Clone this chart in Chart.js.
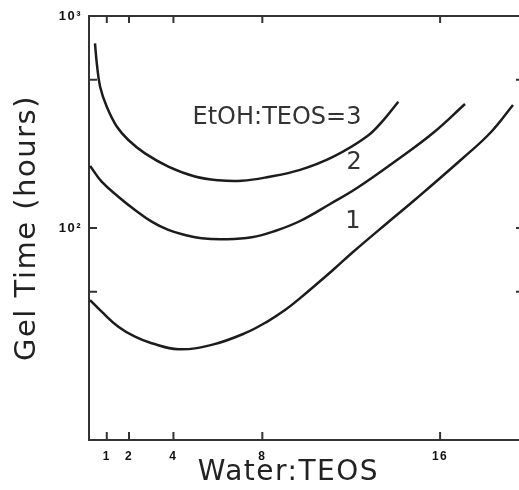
<!DOCTYPE html>
<html>
<head>
<meta charset="utf-8">
<script src="https://cdn.jsdelivr.net/npm/chart.js@4.4.0/dist/chart.umd.min.js"></script>
<style>
body { margin: 0; background: #fff; }
</style>
</head>
<body>
<canvas id="gelChart" width="519" height="490"></canvas>
<script>
/*--data--*/
var xTicks = [1, 2, 4, 8, 16];
var yTickMarks = [10, 50, 100, 500, 1000];
var yTickLabels = {100: '10\u00b2', 1000: '10\u00b3'};

// EtOH:TEOS = 3
var ratio3X = [0.47, 0.55, 0.70, 1.0, 1.45, 1.97, 2.72, 3.77, 4.97, 6.02, 7.07, 8.2, 9.7, 11.2, 12.7, 13.45, 14.12];
var ratio3Y = [743, 599, 464, 373, 301, 260, 225, 195, 175, 168, 167, 173.5, 188, 217, 270, 323, 394];
// EtOH:TEOS = 2
var ratio2X = [0.25, 0.77, 1.52, 2.27, 3.02, 3.77, 4.52, 5.27, 6.32, 7.52, 8.57, 9.70, 11.05, 12.26, 14.06, 15.68, 17.12];
var ratio2Y = [196, 165.4, 140.5, 121.6, 107.1, 97.9, 92.7, 89.4, 88.5, 90.4, 96.8, 107.9, 129.8, 154.4, 209.3, 280.6, 384.6];
// EtOH:TEOS = 1
var ratio1X = [0.25, 0.77, 1.52, 2.27, 3.02, 4.22, 5.72, 7.22, 8.26, 9.02, 9.70, 11.18, 12.08, 13.62, 14.96, 17.03, 18.25, 19.28];
var ratio1Y = [45.7, 40.3, 34.2, 30.7, 28.6, 26.8, 28.1, 31.9, 36.4, 41.0, 46.7, 63.4, 77.0, 105.6, 138.5, 213.9, 280.6, 380.4];

var curveLabels = ['EtOH:TEOS=3', '2', '1'];
var curveLabelX = [8.66, 12.13, 12.08];
var curveLabelY = [330, 203, 107];

function toPoints(xs, ys) {
  return xs.map(function (x, i) { return {x: x, y: ys[i]}; });
}

var lineColor = '#1c1c1c';
var axisColor = '#333';

/*--ticks pointing inward, top frame, and curve labels--*/
var frameTicks = {
  id: 'frameTicks',
  beforeDraw: function (chart) {
    chart.ctx.letterSpacing = '1.5px';
  },
  beforeDatasetsDraw: function (chart) {
    chart.ctx.letterSpacing = '0px';
  },
  afterDraw: function (chart) {
    var ctx = chart.ctx, a = chart.chartArea, x = chart.scales.x, y = chart.scales.y;
    ctx.save();
    ctx.strokeStyle = axisColor;
    ctx.lineWidth = 2;
    ctx.beginPath();
    ctx.moveTo(a.left - 1, a.top);
    ctx.lineTo(a.right, a.top);
    xTicks.forEach(function (v) {
      var px = x.getPixelForValue(v);
      ctx.moveTo(px, a.bottom);
      ctx.lineTo(px, a.bottom - 8);
      ctx.moveTo(px, a.top);
      ctx.lineTo(px, a.top + 7);
    });
    [50, 100, 500].forEach(function (v) {
      var py = y.getPixelForValue(v);
      ctx.moveTo(a.left, py);
      ctx.lineTo(a.left + 8, py);
      ctx.moveTo(a.right, py);
      ctx.lineTo(a.right - 3, py);
    });
    ctx.stroke();

    ctx.letterSpacing = '0px';
    ctx.fillStyle = '#333';
    ctx.font = '24px "DejaVu Sans"';
    ctx.textAlign = 'center';
    ctx.textBaseline = 'middle';
    curveLabels.forEach(function (t, i) {
      ctx.fillText(t, x.getPixelForValue(curveLabelX[i]), y.getPixelForValue(curveLabelY[i]));
    });
    ctx.restore();
  }
};

var ctx = document.getElementById('gelChart').getContext('2d');
var gelChart = new Chart(ctx, {
  type: 'line',
  plugins: [frameTicks],
  data: {
    datasets: [
      {label: 'EtOH:TEOS=3', data: toPoints(ratio3X, ratio3Y)},
      {label: 'EtOH:TEOS=2', data: toPoints(ratio2X, ratio2Y)},
      {label: 'EtOH:TEOS=1', data: toPoints(ratio1X, ratio1Y)}
    ].map(function (d) {
      d.borderColor = lineColor;
      d.borderWidth = 2.5;
      d.pointRadius = 0;
      d.fill = false;
      d.tension = 0.4;
      return d;
    })
  },
  options: {
    responsive: false,
    animation: false,
    layout: {padding: {top: 16, right: 0, bottom: 0, left: 0}},
    plugins: {legend: {display: false}, tooltip: {enabled: false}},
    scales: {
      x: {
        type: 'linear',
        min: 0.2,
        max: 19.55,
        afterBuildTicks: function (scale) {
          scale.ticks = xTicks.map(function (v) { return {value: v}; });
        },
        afterFit: function (scale) { scale.height = 50; },
        grid: {display: false, drawTicks: false},
        border: {display: true, color: axisColor, width: 2},
        ticks: {
          autoSkip: false,
          maxRotation: 0,
          padding: 9,
          color: '#111',
          font: {family: 'Liberation Sans', size: 12, weight: 'bold'}
        },
        title: {
          display: true,
          text: 'Water:TEOS   ',
          color: '#222',
          padding: {top: 0, bottom: 0},
          font: {family: 'DejaVu Sans', size: 28}
        }
      },
      y: {
        type: 'logarithmic',
        min: 10,
        max: 1000,
        afterBuildTicks: function (scale) {
          scale.ticks = yTickMarks.map(function (v) { return {value: v}; });
        },
        afterFit: function (scale) { scale.width = 89; },
        grid: {display: false, drawTicks: false},
        border: {display: true, color: axisColor, width: 2},
        ticks: {
          autoSkip: false,
          padding: 7,
          color: '#111',
          font: {family: 'Liberation Sans', size: 13, weight: 'bold'},
          callback: function (v) { return yTickLabels[v] || ''; }
        },
        title: {
          display: true,
          text: 'Gel Time (hours)',
          color: '#222',
          padding: {top: 10, bottom: 0},
          font: {family: 'DejaVu Sans', size: 29}
        }
      }
    }
  }
});
</script>
</body>
</html>
